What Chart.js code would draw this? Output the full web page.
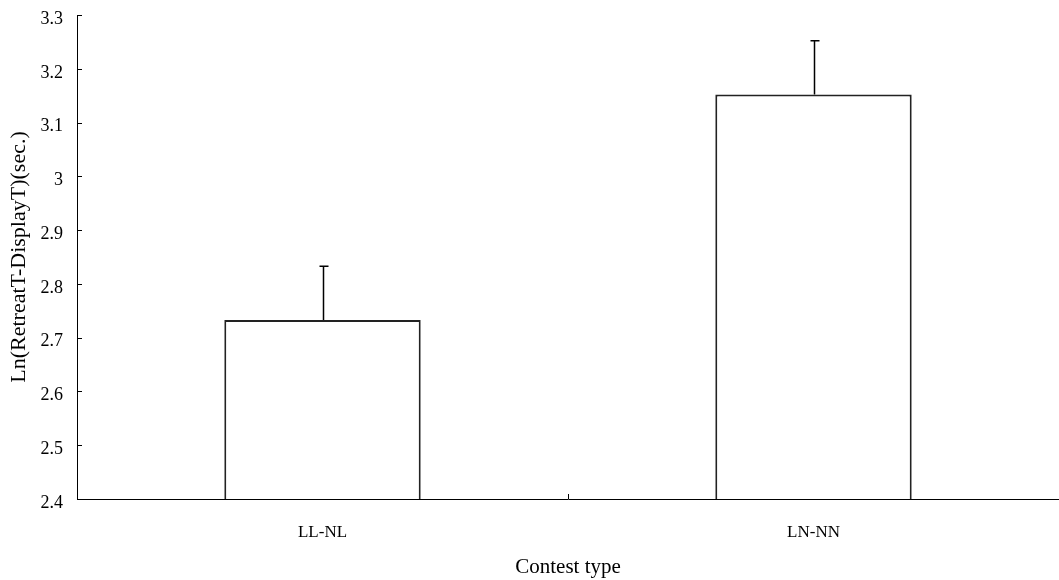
<!DOCTYPE html>
<html>
<head>
<meta charset="utf-8">
<script src="https://cdn.jsdelivr.net/npm/chart.js@4"></script>
<style>
  html, body { margin: 0; padding: 0; background: #fff; }
  #chartContainer { width: 1059px; height: 580px; position: relative; }
</style>
</head>
<body>
<div id="chartContainer"><canvas id="myChart"></canvas></div>
<script>
// values
const categories = ['LL-NL', 'LN-NN'];
const means = [2.733, 3.152];
const errors = [0.1, 0.1];
const yMin = 2.4;
const yMax = 3.3;
const yStep = 0.1;

const serif = "'Liberation Serif', 'Times New Roman', serif";

// error bars (upper only) and small inward tick marks
const extras = {
    id: 'extras',
    afterDatasetsDraw(chart) {
        const ctx = chart.ctx;
        const x = chart.scales.x;
        const y = chart.scales.y;
        const meta = chart.getDatasetMeta(0);

        ctx.save();
        ctx.strokeStyle = '#000';
        ctx.lineWidth = 1.5;
        meta.data.forEach((bar, i) => {
            const cx = Math.round(bar.x) + 0.5;
            const top = y.getPixelForValue(means[i]);
            const end = y.getPixelForValue(means[i] + errors[i]);
            ctx.beginPath();
            ctx.moveTo(cx, top);
            ctx.lineTo(cx, end);
            ctx.moveTo(cx - 4, end);
            ctx.lineTo(cx + 5, end);
            ctx.stroke();
        });

        ctx.lineWidth = 1;
        const left = chart.chartArea.left;
        y.ticks.forEach(t => {
            const py = Math.round(y.getPixelForValue(t.value)) + 0.5;
            ctx.beginPath();
            ctx.moveTo(left, py);
            ctx.lineTo(left + 5, py);
            ctx.stroke();
        });
        const bottom = chart.chartArea.bottom;
        for (let i = 0; i < categories.length - 1; i++) {
            const px = Math.round((x.getPixelForValue(i) + x.getPixelForValue(i + 1)) / 2) + 0.5;
            ctx.beginPath();
            ctx.moveTo(px, bottom);
            ctx.lineTo(px, bottom - 5);
            ctx.stroke();
        }
        ctx.restore();
    }
};

const ctx = document.getElementById('myChart').getContext('2d');
const myChart = new Chart(ctx, {
    type: 'bar',
    data: {
        labels: categories,
        datasets: [{
            data: means,
            backgroundColor: '#ffffff',
            borderColor: '#222222',
            borderWidth: 2,
            categoryPercentage: 1,
            barPercentage: 0.4
        }]
    },
    options: {
        responsive: true,
        maintainAspectRatio: false,
        animation: false,
        layout: {
            padding: { top: 15, right: 0, bottom: 0, left: 0 }
        },
        plugins: {
            legend: { display: false },
            tooltip: { enabled: false }
        },
        scales: {
            x: {
                afterFit(scale) {
                    scale.height = 81;
                    scale.paddingLeft = 0;
                    scale.paddingRight = 0;
                },
                grid: { display: false, drawTicks: false },
                border: { display: true, color: '#000', width: 1 },
                ticks: {
                    color: '#000',
                    padding: 23,
                    font: { family: serif, size: 17 }
                },
                title: {
                    display: true,
                    text: 'Contest type',
                    color: '#000',
                    padding: { top: 0, bottom: 0 },
                    font: { family: serif, size: 21 }
                }
            },
            y: {
                min: yMin,
                max: yMax,
                afterFit(scale) {
                    scale.width = 77;
                    scale.paddingTop = 0;
                    scale.paddingBottom = 0;
                },
                grid: { display: false, drawTicks: false },
                border: { display: true, color: '#000', width: 1 },
                ticks: {
                    stepSize: yStep,
                    color: '#000',
                    padding: 14,
                    labelOffset: 4,
                    font: { family: serif, size: 18 },
                    callback: v => String(Number(v.toFixed(1)))
                },
                title: {
                    display: true,
                    text: 'Ln(RetreatT-DisplayT)(sec.)',
                    color: '#000',
                    padding: { top: 6, bottom: 0 },
                    font: { family: serif, size: 22 }
                }
            }
        }
    },
    plugins: [extras]
});
</script>
</body>
</html>
